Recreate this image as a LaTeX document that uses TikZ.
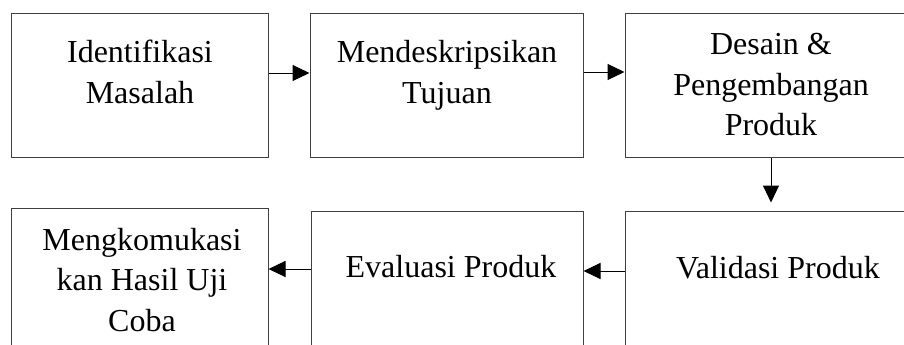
\documentclass[tikz,border=0pt]{standalone}
\usepackage{fontspec}
\setmainfont{Liberation Serif}
\usetikzlibrary{arrows.meta}
\tikzset{
  box/.style={draw=black!75, line width=1pt, rectangle, inner sep=0pt},
  lbl/.style={anchor=base, inner sep=0pt, font=\fontsize{32}{40.5}\selectfont},
  arr/.style={line width=1pt, -{Triangle[length=17pt,width=16pt]}}
}
\newcommand{\lines}[1]{\begin{tabular}[t]{@{}c@{}}#1\end{tabular}}
\begin{document}
\begin{tikzpicture}[x=1pt,y=-1pt]
\useasboundingbox (0,0) rectangle (904,345);
\clip (0,0) rectangle (904,345);
\node[box, minimum width=257pt, minimum height=143pt] (b1) at (139.5,85.5) {};
\node[box, minimum width=273pt, minimum height=143pt] (b2) at (446.5,85.5) {};
\node[box, minimum width=292pt, minimum height=143pt] (b3) at (771,85.5) {};
\node[box, minimum width=257pt, minimum height=143pt] (b4) at (139.5,279.5) {};
\node[box, minimum width=272pt, minimum height=143pt] (b5) at (447,282.5) {};
\node[box, minimum width=292pt, minimum height=143pt] (b6) at (771,282.5) {};

\node[lbl] (t1) at (140,63) {\lines{Identifikasi\\Masalah}};
\node[lbl] (t2) at (447,63) {\lines{Mendeskripsikan\\Tujuan}};
\node[lbl] (t3) at (771,55) {\lines{Desain \&\\Pengembangan\\Produk}};
\node[lbl] (t4) at (142,250) {\lines{Mengkomukasi\\kan Hasil Uji\\Coba}};
\node[lbl] (t5) at (451,277) {Evaluasi Produk};
\node[lbl] (t6) at (778,278) {Validasi Produk};

\draw[arr] ([yshift=12.5pt]b1.east) -- ([yshift=12.5pt]b2.west);
\draw[arr] ([yshift=13.5pt]b2.east) -- ([yshift=13.5pt]b3.west);
\draw[arr] (b3.south) -- ([yshift=8pt]b6.north);
\coordinate (p6) at ([yshift=11.5pt]b6.west);
\draw[arr] (p6) -- (p6 -| b5.east);
\coordinate (p5) at ([yshift=13.5pt]b5.west);
\draw[arr] (p5) -- (p5 -| b4.east);
\end{tikzpicture}
\end{document}
